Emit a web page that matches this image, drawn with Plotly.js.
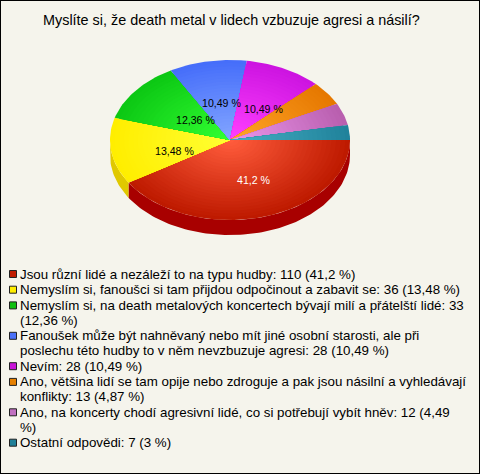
<!DOCTYPE html>
<html><head><meta charset="utf-8">
<script src="https://cdn.plot.ly/plotly-3.0.1.min.js"></script>
<style>html,body{margin:0;padding:0;background:#f5f4ec}#c{width:480px;height:474px}</style>
</head><body><div id="c"></div>
<script>
const titleText = 'Myslíte si, že death metal v lidech vzbuzuje agresi a násilí?';
const categories = ['Jsou různí lidé a nezáleží to na typu hudby','Nemyslím si, fanoušci si tam přijdou odpočinout a zabavit se','Nemyslím si, na death metalových koncertech bývají milí a přátelští lidé','Fanoušek může být nahněvaný nebo mít jiné osobní starosti, ale při poslechu této hudby to v něm nevzbuzuje agresi','Nevím','Ano, většina lidí se tam opije nebo zdroguje a pak jsou násilní a vyhledávají konflikty','Ano, na koncerty chodí agresivní lidé, co si potřebují vybít hněv','Ostatní odpovědi'];
const counts = [110,36,33,28,28,13,12,7];
const percents = [41.2,13.48,12.36,10.49,10.49,4.87,4.49,3];
const sliceLabels = ['41,2 %','13,48 %','12,36 %','10,49 %','10,49 %','','',''];
const labelColors = ['#ffffff','#000000','#000000','#000000','#000000','#000','#000','#000'];
const innerColors = [[255,92,60],[255,255,50],[50,255,50],[130,165,255],[255,64,255],[255,165,40],[235,150,235],[70,175,195]];
const outerColors = [[190,26,0],[255,238,0],[12,200,20],[70,110,250],[205,20,225],[230,120,0],[185,95,175],[32,130,155]];
const sideColors = ['#a80000','#e0c800','#0a9a10','#3050c0','#a010b0','#b06000','#905090','#186878'];
const swatchColors = ['#c01c00','#ffee00','#10c010','#4a70f8','#c814d8','#e68000','#c070c0','#208098'];
const legendLines = [
 ['Jsou různí lidé a nezáleží to na typu hudby: 110 (41,2 %)'],
 ['Nemyslím si, fanoušci si tam přijdou odpočinout a zabavit se: 36 (13,48 %)'],
 ['Nemyslím si, na death metalových koncertech bývají milí a přátelští lidé: 33','(12,36 %)'],
 ['Fanoušek může být nahněvaný nebo mít jiné osobní starosti, ale při','poslechu této hudby to v něm nevzbuzuje agresi: 28 (10,49 %)'],
 ['Nevím: 28 (10,49 %)'],
 ['Ano, většina lidí se tam opije nebo zdroguje a pak jsou násilní a vyhledávají','konflikty: 13 (4,87 %)'],
 ['Ano, na koncerty chodí agresivní lidé, co si potřebují vybít hněv: 12 (4,49','%)'],
 ['Ostatní odpovědi: 7 (3 %)']
];
const cx=230, cy=140, rx=120, ry=80, depth=15, RINGS=26;
const total=percents.reduce((a,b)=>a+b,0);
const nudges=[[7,2],[4,5],[13,5],[3,2],[6,5]];
const traces=[], anns=[];
function arc(a0,a1,f,dy){const pts=[];const n=Math.max(2,Math.ceil(Math.abs(a1-a0)/1.5));
  for(let i=0;i<=n;i++){const a=(a0+(a1-a0)*i/n)*Math.PI/180;pts.push([cx+rx*f*Math.cos(a),cy+ry*f*Math.sin(a)+dy]);}return pts;}
function poly(pts,color){traces.push({type:'scatter',mode:'lines',x:pts.map(p=>p[0]),y:pts.map(p=>p[1]),fill:'toself',fillcolor:color,line:{width:0,color:color},hoverinfo:'skip',showlegend:false});}
let start=0;const spans=percents.map(p=>{const s=[start,start+p/total*360];start=s[1];return s;});
spans.forEach((s,i)=>{const a0=s[0],a1=Math.min(s[1],180);if(a0<180){
  const top=arc(a0,a1,1,0),bot=arc(a0,a1,1,depth).reverse();poly(top.concat(bot),sideColors[i]);}});
spans.forEach((s,i)=>{for(let k=0;k<RINGS;k++){const t=k/(RINGS-1),f=1-k/RINGS;
  const c=outerColors[i].map((v,j)=>Math.round(v+(innerColors[i][j]-v)*t));
  const pts=[[cx,cy]].concat(arc(s[0],s[1],f,0));pts.push([cx,cy]);poly(pts,`rgb(${c})`);}});
sliceLabels.forEach((t,i)=>{if(!t)return;const m=(spans[i][0]+spans[i][1])/2*Math.PI/180;
  anns.push({x:cx+rx*.5*Math.cos(m)+nudges[i][0],y:cy+ry*.5*Math.sin(m)+nudges[i][1],text:t,showarrow:false,xanchor:'center',yanchor:'middle',font:{family:'Liberation Sans',size:10.6,color:labelColors[i]}});});
const LEG_X=18,LINE=14.7,GAP=15.7;let ly=274;const sx=[],sy=[];
legendLines.forEach((lines,i)=>{sx.push(13);sy.push(ly);lines.forEach((l,j)=>{anns.push({x:LEG_X,y:ly+j*LINE,text:l,showarrow:false,xanchor:'left',yanchor:'middle',align:'left',font:{family:'Liberation Sans',size:13.33,color:'#000'}});});ly+=(lines.length-1)*LINE+GAP;});
traces.push({type:'scatter',mode:'markers',x:sx,y:sy,marker:{symbol:'square',size:7,color:swatchColors,line:{width:1,color:'#222'}},hoverinfo:'skip',showlegend:false});
anns.push({x:231,y:20,text:titleText,showarrow:false,xanchor:'center',yanchor:'middle',font:{family:'Liberation Sans',size:14.4,color:'#000'}});
const layout={width:480,height:474,margin:{l:0,r:0,t:0,b:0},paper_bgcolor:'#f5f4ec',plot_bgcolor:'#f5f4ec',showlegend:false,
 xaxis:{range:[0,480],visible:false,fixedrange:true},yaxis:{range:[474,0],visible:false,fixedrange:true},annotations:anns,
 shapes:[{type:'rect',xref:'paper',yref:'paper',x0:0,x1:1,y0:0,y1:1,line:{color:'#000',width:2},fillcolor:'rgba(0,0,0,0)'}]};
Plotly.newPlot('c',traces,layout,{displayModeBar:false,staticPlot:true});
</script></body></html>
